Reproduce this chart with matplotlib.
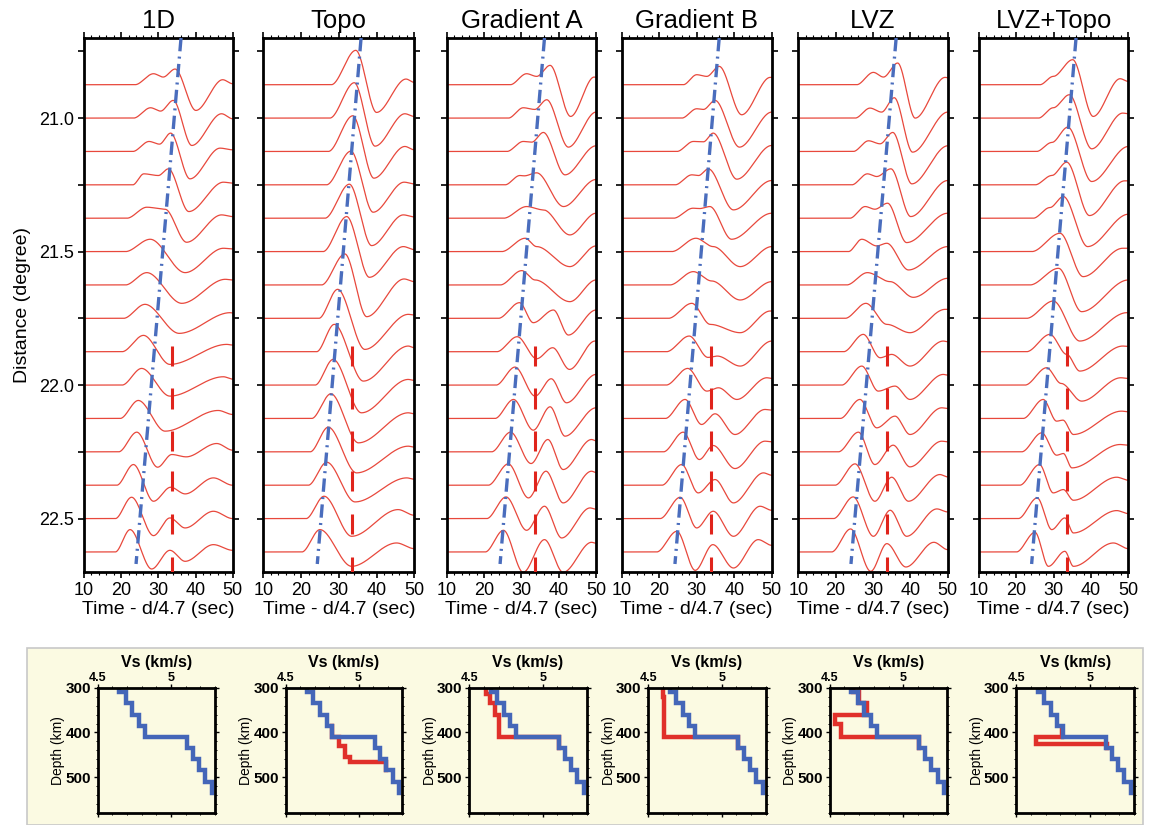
import numpy as np
import matplotlib.pyplot as plt
from matplotlib.patches import Rectangle
from matplotlib.ticker import MultipleLocator, FormatStrFormatter

plt.rcParams['font.family'] = ['Liberation Sans', 'DejaVu Sans']

# ---------------- data ----------------
titles = ['1D', 'Topo', 'Gradient A', 'Gradient B', 'LVZ', 'LVZ+Topo']

# epicentral distance of each trace (degree)
distances = [20.875, 21.0, 21.125, 21.25, 21.375, 21.5, 21.625, 21.75,
             21.875, 22.0, 22.125, 22.25, 22.375, 22.5, 22.625]
trace_scale = 0.125   # one amplitude unit = one trace spacing

# turning points of every trace: (time sec, amplitude), first = onset
wave_1d = [
    [(23.7, 0), (28.7, .33), (31.3, .23), (34.5, .47), (40.1, -.77), (47.3, .15), (50, .03)],
    [(23.3, 0), (27.9, .31), (30.6, .21), (34.0, .53), (39.0, -.82), (47.0, .13), (50, -.02)],
    [(23.1, 0), (27.5, .30), (30.3, .22), (33.3, .55), (38.5, -.82), (46.6, .10), (50, .05)],
    [(23.1, 0), (26.1, .33), (30.0, .28), (32.7, .48), (38.2, -.80), (47.5, .08), (50, .05)],
    [(21.5, 0), (26.9, .33), (31.8, .27), (37.6, -.72), (47.0, .10), (50, .05)],
    [(21.1, 0), (27.8, .37), (37.2, -.63), (47.5, .10), (50, .08)],
    [(21.1, 0), (26.9, .37), (36.3, -.55), (48.0, .17), (50, .15)],
    [(20.6, 0), (26.4, .42), (35.6, -.45), (49.3, .17), (50, .16)],
    [(20.2, 0), (26.0, .49), (33.1, -.38), (48.4, .22), (50, .20)],
    [(20.2, 0), (25.5, .50), (33.1, -.33), (47.5, .25), (50, .18)],
    [(19.7, 0), (24.6, .54), (31.8, -.38), (46.1, .24), (50, .12)],
    [(19.3, 0), (24.2, .59), (29.8, -.46), (33.6, -.08), (37.5, -.15), (45.7, .25), (50, .05)],
    [(18.8, 0), (23.3, .62), (28.7, -.48), (33.3, -.06), (37.2, -.26), (44.8, .22), (50, 0)],
    [(18.4, 0), (22.8, .64), (28.7, -.51), (33.1, .02), (37.2, -.28), (44.8, .22), (50, 0)],
    [(18.4, 0), (22.4, .67), (28.2, -.51), (33.1, .05), (37.2, -.28), (44.8, .22), (50, .05)],
]
wave_topo = [
    [(28.0, 0), (34.5, 1.03), (40.0, -.83), (47.8, .17), (50, .07)],
    [(27.6, 0), (34.1, 1.06), (39.6, -.84), (47.5, .13), (50, .05)],
    [(27.2, 0), (33.7, 1.07), (39.3, -.80), (47.5, .15), (50, .05)],
    [(26.7, 0), (33.2, 1.01), (39.1, -.82), (47.3, .08), (50, .03)],
    [(26.3, 0), (32.8, 1.02), (38.7, -.82), (47.1, .10), (50, .04)],
    [(25.8, 0), (32.1, 1.05), (38.1, -.77), (47.1, .15), (50, .06)],
    [(25.4, 0), (31.6, .93), (37.4, -.95), (47.3, .18), (50, .10)],
    [(24.7, 0), (29.7, .87), (36.9, -.93), (48.4, .12), (50, .10)],
    [(24.1, 0), (28.8, .82), (36.5, -.88), (48.4, .17), (50, .12)],
    [(23.7, 0), (28.5, .77), (36.0, -.83), (48.4, .17), (50, .14)],
    [(22.8, 0), (27.9, .74), (35.2, -.73), (48.4, .17), (50, .14)],
    [(22.4, 0), (27.2, .74), (34.7, -.63), (48.4, .17), (50, .14)],
    [(21.9, 0), (26.8, .69), (34.3, -.50), (48.0, .22), (50, .18)],
    [(21.3, 0), (26.1, .67), (33.4, -.53), (45.7, .27), (50, .10)],
    [(20.2, 0), (25.0, .67), (33.4, -.43), (45.3, .27), (50, .10)],
]
wave_grad_a = [
    [(27.0, 0), (31.4, .33), (34.1, .25), (37.7, .58), (43.2, -.95), (49.5, .23), (50, .22)],
    [(26.5, 0), (30.5, .31), (33.6, .26), (36.8, .55), (42.6, -.87), (50, .18)],
    [(26.1, 0), (30.5, .30), (32.8, .28), (35.9, .57), (41.7, -.70), (50, .17)],
    [(25.6, 0), (29.6, .28), (30.8, .27), (34.1, .36), (41.3, -.65), (50, .16)],
    [(25.2, 0), (31.4, .35), (35.9, .25), (43.0, -.50), (50, .15)],
    [(24.7, 0), (31.0, .40), (34.1, .15), (43.0, -.45), (50, .17)],
    [(24.3, 0), (30.1, .43), (33.7, .15), (43.0, -.50), (50, .15)],
    [(23.8, 0), (29.5, .47), (33.2, -.13), (38.6, .25), (42.6, -.50), (50, .25)],
    [(23.4, 0), (28.9, .45), (34.1, -.21), (38.4, .12), (42.9, -.53), (49.7, .32), (50, .32)],
    [(23.2, 0), (28.3, .54), (33.7, -.33), (38.0, .19), (42.1, -.53), (50, .32)],
    [(22.9, 0), (27.9, .57), (33.2, -.35), (37.7, .35), (41.7, -.53), (50, .32)],
    [(22.0, 0), (27.1, .59), (32.6, -.35), (37.1, .37), (41.2, -.53), (48.8, .37), (50, .33)],
    [(21.1, 0), (26.5, .64), (31.9, -.38), (36.6, .42), (41.2, -.53), (48.8, .42), (50, .38)],
    [(20.7, 0), (25.9, .65), (31.4, -.35), (36.2, .37), (40.8, -.58), (48.4, .32), (50, .28)],
    [(20.3, 0), (25.2, .65), (30.5, -.61), (36.2, .37), (41.2, -.61), (48.8, .29), (50, .26)],
]
wave_grad_b = [
    [(26.4, 0), (30.0, .30), (32.7, .25), (36.0, .55), (42.0, -.90), (49.6, .22), (50, .22)],
    [(26.0, 0), (30.0, .28), (31.8, .26), (34.9, .53), (41.4, -.87), (50, .18)],
    [(24.7, 0), (29.1, .30), (31.8, .29), (34.4, .55), (40.7, -.83), (50, .18)],
    [(24.2, 0), (28.7, .30), (30.5, .28), (33.1, .48), (39.8, -.75), (50, .13)],
    [(23.8, 0), (29.0, .30), (30.8, .29), (33.5, .35), (39.3, -.63), (50, .15)],
    [(23.3, 0), (29.8, .40), (34.4, .15), (41.6, -.45), (50, .15)],
    [(22.8, 0), (29.1, .40), (34.0, .12), (41.6, -.45), (50, .10)],
    [(22.4, 0), (28.7, .45), (33.6, -.18), (41.6, -.43), (49.6, .22), (50, .22)],
    [(21.9, 0), (28.0, .47), (33.0, -.17), (35.5, -.13), (41.6, -.43), (50, .32)],
    [(21.8, 0), (27.6, .50), (32.7, -.18), (35.8, -.08), (40.7, -.43), (48.7, .22), (50, .20)],
    [(21.6, 0), (26.9, .57), (31.3, -.18), (34.9, .14), (40.2, -.48), (48.2, .27), (50, .25)],
    [(21.1, 0), (26.4, .59), (30.7, -.23), (34.4, .19), (40.2, -.50), (48.2, .32), (50, .30)],
    [(20.7, 0), (26.0, .62), (30.4, -.23), (34.9, .17), (39.8, -.53), (47.8, .37), (50, .30)],
    [(20.2, 0), (25.6, .64), (30.0, -.28), (34.4, .22), (39.8, -.53), (46.9, .37), (50, .25)],
    [(19.3, 0), (24.7, .62), (29.6, -.55), (34.3, .22), (39.8, -.48), (46.4, .37), (50, .20)],
]
wave_lvz = [
    [(25.6, 0), (30.1, .37), (32.8, .23), (36.6, .65), (41.3, -1.0), (49.3, .22), (50, .21)],
    [(25.2, 0), (29.2, .30), (32.3, .18), (35.7, .61), (40.6, -1.02), (50, .18)],
    [(24.7, 0), (28.8, .32), (31.9, .23), (35.3, .57), (40.4, -.97), (50, .17)],
    [(24.3, 0), (28.5, .33), (31.0, .25), (34.8, .48), (40.1, -.95), (50, .13)],
    [(23.8, 0), (27.9, .35), (30.5, .27), (33.9, .45), (39.0, -.73), (50, .15)],
    [(23.4, 0), (27.0, .37), (31.0, .17), (33.7, .25), (39.5, -.55), (50, .15)],
    [(22.9, 0), (28.5, .37), (34.6, .10), (40.8, -.37), (50, .20)],
    [(22.5, 0), (28.1, .45), (33.7, -.18), (39.9, -.43), (49.3, .27), (50, .27)],
    [(22.1, 0), (27.4, .52), (31.9, -.18), (35.0, -.08), (39.9, -.43), (48.8, .32), (50, .30)],
    [(21.6, 0), (27.0, .57), (31.4, -.18), (35.9, -.03), (39.9, -.43), (48.8, .32), (50, .30)],
    [(21.2, 0), (26.5, .57), (31.0, -.28), (35.9, .07), (39.9, -.48), (48.4, .32), (50, .30)],
    [(20.7, 0), (26.1, .59), (30.5, -.38), (35.4, .20), (39.9, -.45), (48.4, .32), (50, .30)],
    [(19.8, 0), (25.2, .64), (30.5, -.48), (35.0, .24), (39.5, -.48), (47.9, .32), (50, .25)],
    [(19.4, 0), (24.7, .65), (30.1, -.53), (34.6, .25), (39.0, -.53), (47.1, .29), (50, .20)],
    [(18.9, 0), (24.0, .69), (29.4, -.58), (33.7, .25), (38.8, -.45), (46.3, .29), (50, .07)],
]
wave_lvz_topo = [
    [(26.3, 0), (29.9, .25), (35.1, .75), (40.6, -.95), (47.8, .18), (50, .10)],
    [(25.9, 0), (29.9, .31), (34.2, .70), (40.2, -.92), (48.5, .15), (50, .13)],
    [(25.4, 0), (29.5, .27), (33.8, .73), (40.2, -.90), (50, .15)],
    [(25.0, 0), (29.5, .28), (33.5, .68), (39.6, -.92), (49.0, .12), (50, .12)],
    [(24.5, 0), (29.0, .32), (32.6, .65), (39.1, -.85), (50, .12)],
    [(24.1, 0), (31.7, .55), (37.9, -.75), (48.5, .10), (50, .10)],
    [(23.6, 0), (31.3, .50), (37.5, -.80), (50, .15)],
    [(22.7, 0), (29.9, .52), (37.0, -.68), (49.6, .17), (50, .17)],
    [(22.7, 0), (29.0, .52), (33.5, -.08), (37.0, -.58), (48.5, .17), (50, .16)],
    [(22.3, 0), (28.1, .52), (32.0, .05), (37.5, -.48), (48.0, .22), (50, .20)],
    [(21.8, 0), (27.2, .57), (30.8, -.08), (32.5, -.05), (35.3, -.48), (48.2, .22), (50, .20)],
    [(21.4, 0), (26.8, .57), (30.8, -.10), (32.6, -.05), (34.9, -.48), (47.8, .22), (50, .20)],
    [(20.9, 0), (26.2, .62), (29.9, -.23), (32.6, -.13), (35.3, -.45), (46.9, .24), (50, .15)],
    [(20.5, 0), (25.6, .62), (29.5, -.33), (33.0, .02), (35.3, -.43), (46.9, .24), (50, .15)],
    [(20.0, 0), (25.0, .59), (28.6, -.43), (33.0, .02), (35.3, -.43), (46.0, .27), (50, .10)],
]
waves = [wave_1d, wave_topo, wave_grad_a, wave_grad_b, wave_lvz, wave_lvz_topo]

# blue dash-dot picks (time at top 20.70 deg and at 22.67 deg)
blue_top_t = [36.1, 35.9, 36.2, 36.0, 36.2, 36.0]
blue_bot_t = [24.0, 24.3, 24.3, 24.2, 24.1, 24.1]
blue_d = [20.70, 22.67]

# short red marks
mark_t = [33.6, 33.6, 33.7, 33.7, 33.8, 33.7]
mark_d = [21.89, 22.05, 22.21, 22.36, 22.52, 22.68]

# velocity models (step profiles)
ref_depth = [300, 310, 335, 360, 385, 410, 435, 460, 485, 510, 535]
ref_vs = [4.645, 4.69, 4.735, 4.78, 4.82, 5.11, 5.15, 5.19, 5.235, 5.28]
red_depth = [None,
             [385, 410, 430, 455, 465, 485],
             [300, 313, 335, 361, 410, 435],
             [300, 320, 410, 435],
             [300, 310, 335, 362, 382, 410, 435],
             [395, 410, 425, 435]]
red_vs = [None,
          [4.82, 4.865, 4.905, 4.94, 5.19],
          [4.617, 4.644, 4.673, 4.70, 5.11],
          [4.60, 4.61, 5.11],
          [4.657, 4.702, 4.755, 4.535, 4.575, 5.11],
          [4.814, 4.635, 5.115]]

# ---------------- drawing ----------------
W, H = 1149, 825
fig = plt.figure(figsize=(W / 100, H / 100), dpi=100)


def px_axes(x0, y0, x1, y1):
    return fig.add_axes([x0 / W, 1 - y1 / H, (x1 - x0) / W, (y1 - y0) / H])


def trace_curve(pts):
    # smooth curve through the turning points (flat at each turning point)
    tk = np.array([10.0] + [p[0] for p in pts])
    ak = np.array([0.0] + [p[1] for p in pts])
    t = np.linspace(10, 50, 1200)
    i = np.clip(np.searchsorted(tk, t, side='right') - 1, 0, len(tk) - 2)
    s = np.clip((t - tk[i]) / (tk[i + 1] - tk[i]), 0, 1)
    s = s * s * (3 - 2 * s)
    return t, ak[i] + (ak[i + 1] - ak[i]) * s


def step_xy(depth, vs):
    x = np.repeat(vs, 2)
    y = np.repeat(depth, 2)[1:-1]
    return x, y


top_l = [84, 263.3, 446.7, 621.7, 798.3, 979]
top_r = [232.7, 414.3, 596, 771.7, 947.7, 1128.3]

trace_col = '#e8483c'
blue_col = '#4a6dbd'

for k in range(6):
    ax = px_axes(top_l[k], 38, top_r[k], 572)
    for d, pts in zip(distances, waves[k]):
        t, a = trace_curve(pts)
        ax.plot(t, d - a * trace_scale, color=trace_col, lw=0.9)
    ax.plot([blue_top_t[k], blue_bot_t[k]], blue_d, color=blue_col, lw=2.4,
            ls=(0, (4.0, 1.6, 0.6, 1.6)), zorder=5)
    for d in mark_d:
        ax.plot([mark_t[k], mark_t[k]], [d - 0.038, d + 0.038], color='#e0241c',
                lw=2.2, zorder=6, solid_capstyle='butt')
    ax.set_xlim(10, 50)
    ax.set_ylim(22.7, 20.7)
    ax.set_xticks([10, 20, 30, 40, 50])
    ax.xaxis.set_minor_locator(MultipleLocator(2))
    ax.yaxis.set_major_locator(MultipleLocator(0.5))
    ax.yaxis.set_minor_locator(MultipleLocator(0.25))
    ax.yaxis.set_major_formatter(FormatStrFormatter('%.1f'))
    ax.tick_params(which='both', direction='out', top=True, right=True, labelsize=13, pad=3)
    ax.tick_params(which='major', length=4, width=1.2)
    ax.tick_params(which='minor', length=2.5, width=0.8)
    ax.tick_params(axis='y', which='minor', length=4, width=1.2)
    if k > 0:
        ax.tick_params(axis='y', labelleft=False)
    else:
        ax.set_ylabel('Distance (degree)', fontsize=14, labelpad=6)
    for sp in ax.spines.values():
        sp.set_linewidth(2.0)
    ax.set_xlabel('Time - d/4.7 (sec)', fontsize=14, labelpad=2)
    ax.set_title(titles[k], fontsize=18.5, pad=7)

# yellow box with the velocity models
fig.add_artist(Rectangle((27 / W, 0), (1143 - 27) / W, (825 - 648) / H,
                         transform=fig.transFigure, facecolor='#fbfae2',
                         edgecolor='#c8c8c8', lw=1.2, zorder=0))

bot_l = [97.7, 285.7, 469.3, 648.3, 829.7, 1016.3]
bot_r = [215, 402.3, 586.7, 765.7, 947.3, 1134]

for k in range(6):
    ax = px_axes(bot_l[k], 687.7, bot_r[k], 813)
    ax.set_facecolor('#fbfae2')
    if red_depth[k] is not None:
        x, y = step_xy(red_depth[k], red_vs[k])
        ax.plot(x, y, color='#e0302a', lw=3.2, solid_joinstyle='miter')
    x, y = step_xy(ref_depth, ref_vs)
    ax.plot(x, y, color='#4466b8', lw=3.2, solid_joinstyle='miter')
    ax.set_xlim(4.5, 5.3)
    ax.set_ylim(580, 300)
    ax.set_xticks([4.5, 5])
    ax.set_xticklabels(['4.5', '5'])
    ax.set_yticks([300, 400, 500])
    ax.xaxis.set_minor_locator(MultipleLocator(0.1))
    ax.yaxis.set_minor_locator(MultipleLocator(20))
    ax.xaxis.set_label_position('top')
    ax.tick_params(which='both', direction='out', top=True, bottom=True, right=True,
                   labeltop=True, labelbottom=False)
    ax.tick_params(which='major', length=3, width=1.0)
    ax.tick_params(which='minor', length=1.5, width=0.7)
    ax.tick_params(axis='x', labelsize=9, pad=0)
    ax.tick_params(axis='y', labelsize=11, pad=2)
    for lab in ax.get_yticklabels() + ax.get_xticklabels():
        lab.set_fontweight('bold')
    for sp in ax.spines.values():
        sp.set_linewidth(2.0)
    ax.set_xlabel('Vs (km/s)', fontsize=11.5, fontweight='bold', labelpad=3)
    ax.set_ylabel('Depth (km)', fontsize=10, labelpad=0)

fig.savefig('out.png', dpi=100)
